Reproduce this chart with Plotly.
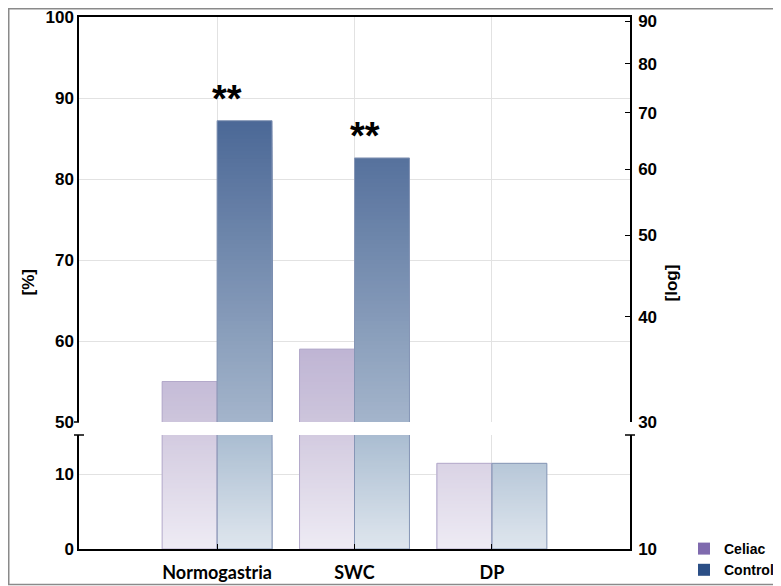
import numpy as np
import plotly.graph_objects as go

# ---------------- data ----------------
categories = ["Normogastria", "SWC", "DP"]
celiac = [55.0, 59.0, 11.5]
control = [87.2, 82.6, 11.5]
significance = ["**", "**", ""]
left_upper_ticks = [50, 60, 70, 80, 90, 100]
left_lower_ticks = [0, 10]
right_upper_ticks = [30, 40, 50, 60, 70, 80, 90]
right_lower_ticks = [10]

# ---------------- layout constants ----------------
# the page body adds an 8px offset, so the figure is 8px smaller and all
# positions below are screen positions minus 8
OFF = 8
W, H = 781 - OFF, 586 - OFF
ML, MT = 79 - OFF, 17 - OFF
PLOT_R, PLOT_B = 630 - OFF, 549 - OFF
MR, MB = W - PLOT_R, H - PLOT_B
PW = W - ML - MR
PH = H - MT - MB
LOWER_TOP = 435 - OFF
UPPER_BOT = 422 - OFF
lower_dom = [0, (PLOT_B - LOWER_TOP) / PH]
upper_dom = [(PLOT_B - UPPER_BOT) / PH, 1]
LOWER_RANGE = [0, 15.3]
UPPER_RANGE = [50, 100]

NUM_FONT = dict(family="Liberation Sans, Arial, sans-serif", size=17, color="black", weight="bold")
CAT_FONT = dict(family="Lato, Open Sans, sans-serif", size=18, color="black", weight="bold")


def hex2rgb(h):
    h = h.lstrip("#")
    return [int(h[i:i + 2], 16) for i in (0, 2, 4)]


def lerp(c0, c1, t):
    a, b = hex2rgb(c0), hex2rgb(c1)
    return "rgb(%d,%d,%d)" % tuple(round(a[i] + (b[i] - a[i]) * t) for i in range(3))


fig = go.Figure()


def add_gradient_bars(values, lo, hi, step, c_lo, c_hi, offset, xa, ya):
    # nested bars from the panel bottom, tallest first: each visible band gets
    # its own colour, giving a vertical gradient without seams
    edges = np.arange(lo, hi, step)[::-1]
    for e in edges:
        if max(v - e for v in values) <= 0:
            continue
        tops = [float(min(v, e + step)) for v in values]
        t = (e + step / 2 - lo) / (hi - lo)
        fig.add_trace(go.Bar(
            x=categories, y=[max(tp - lo, 0) for tp in tops], base=[float(lo)] * len(values),
            width=0.4, offset=offset,
            marker=dict(color=lerp(c_lo, c_hi, t), line=dict(width=0)),
            xaxis=xa, yaxis=ya, showlegend=False, hoverinfo="skip"))


def add_outline(values, offset, color, xa, ya):
    fig.add_trace(go.Bar(
        x=categories, y=values, width=0.4, offset=offset,
        marker=dict(color="rgba(0,0,0,0)", line=dict(width=1, color=color)),
        xaxis=xa, yaxis=ya, showlegend=False, hoverinfo="skip"))


# upper panel (50-100)
add_gradient_bars(celiac, 50, 100, 0.5, "#cdc5dc", "#7f6aae", -0.4, "x2", "y2")
add_gradient_bars(control, 50, 100, 0.5, "#a4b5cb", "#2c4d84", 0.0, "x2", "y2")
# lower panel
add_gradient_bars(celiac, 0, LOWER_RANGE[1], 0.25, "#eeebf4", "#d3cbe0", -0.4, "x", "y")
add_gradient_bars(control, 0, LOWER_RANGE[1], 0.25, "#dfe6ee", "#aabdd1", 0.0, "x", "y")

for xa, ya in (("x", "y"), ("x2", "y2")):
    add_outline(celiac, -0.4, "#b3a9ca", xa, ya)
    add_outline(control, 0.0, "#8696b6", xa, ya)

# empty traces so the right-hand (log) axes are drawn
fig.add_trace(go.Scatter(x=[None], y=[None], xaxis="x2", yaxis="y3", showlegend=False, hoverinfo="skip"))
fig.add_trace(go.Scatter(x=[None], y=[None], xaxis="x", yaxis="y4", showlegend=False, hoverinfo="skip"))

# legend entries
fig.add_trace(go.Bar(x=[None], y=[None], name="Celiac", marker=dict(color="#7f6aae", line=dict(width=0))))
fig.add_trace(go.Bar(x=[None], y=[None], name="Control", marker=dict(color="#2b4f86", line=dict(width=0))))

# significance marks
for cat, v, s in zip(categories, control, significance):
    if s:
        fig.add_annotation(x=cat, y=v, xref="x2", yref="y2", text=s, showarrow=False,
                           xanchor="left", yanchor="bottom", xshift=-7, yshift=-1,
                           font=dict(family="Liberation Sans, Arial", size=38, color="black", weight="bold"))

# axis titles
fig.add_annotation(x=(22 - OFF - ML) / PW, y=0.5, xref="paper", yref="paper", text="[%]", textangle=-90,
                   showarrow=False, xshift=-6, font=NUM_FONT)
fig.add_annotation(x=(676 - OFF - ML) / PW, y=0.5, xref="paper", yref="paper", text="[log]", textangle=-90,
                   showarrow=False, xshift=6, font=NUM_FONT)


# axis break caps and frame
def hline(x0px, x1px, yfrac):
    fig.add_shape(type="line", xref="paper", yref="paper",
                  x0=(x0px - ML) / PW, x1=(x1px - ML) / PW, y0=yfrac, y1=yfrac,
                  line=dict(color="black", width=1.5))


hline(ML - 5, ML, upper_dom[0])
hline(ML - 5, ML + 5, lower_dom[1])
hline(ML + PW - 5, ML + PW + 5, lower_dom[1])

fig.add_shape(type="rect", xref="paper", yref="paper",
              x0=(0.75 - ML) / PW, x1=(W + 10 - ML) / PW,
              y0=(PLOT_B - (584.5 - OFF)) / PH, y1=(PLOT_B - 0.75) / PH,
              line=dict(color="#8a8a8a", width=1.5), fillcolor="rgba(0,0,0,0)", layer="above")

axis_common = dict(showline=True, linecolor="black", linewidth=1.5, zeroline=False)
grid = dict(showgrid=True, gridcolor="#e2e2e2", gridwidth=1)

fig.update_layout(
    width=W, height=H,
    margin=dict(l=ML, r=MR, t=MT, b=MB, autoexpand=False),
    paper_bgcolor="white", plot_bgcolor="white",
    barmode="overlay",
    xaxis=dict(domain=[0, 1], anchor="y", range=[-1.005, 3.005], type="category",
               tickvals=categories, ticks="inside", ticklen=5, tickcolor="black",
               tickfont=CAT_FONT, ticklabelstandoff=7, ticklabeloverflow="allow",
               **axis_common, **grid),
    xaxis2=dict(domain=[0, 1], anchor="y2", matches="x", side="top", type="category",
                showticklabels=False, ticks="", **axis_common, **grid),
    yaxis=dict(domain=lower_dom, anchor="x", range=LOWER_RANGE, tickvals=left_lower_ticks,
               ticks="", tickfont=NUM_FONT, ticklabeloverflow="allow", **axis_common, **grid),
    yaxis2=dict(domain=upper_dom, anchor="x2", range=UPPER_RANGE, tickvals=left_upper_ticks,
                ticks="", tickfont=NUM_FONT, ticklabeloverflow="allow", **axis_common, **grid),
    yaxis3=dict(overlaying="y2", anchor="x2", side="right", type="log",
                range=[np.log10(30), 1.959], tickvals=right_upper_ticks,
                ticks="inside", ticklen=5, tickcolor="black", tickfont=NUM_FONT,
                ticklabelstandoff=3, ticklabeloverflow="allow", showgrid=False, **axis_common),
    yaxis4=dict(overlaying="y", anchor="x", side="right", type="log",
                range=[1, 1.3], tickvals=right_lower_ticks,
                ticks="inside", ticklen=5, tickcolor="black", tickfont=NUM_FONT,
                ticklabelstandoff=3, ticklabeloverflow="allow", showgrid=False, **axis_common),
    legend=dict(xref="container", yref="container", x=(684 - OFF) / W, y=0.0,
                xanchor="left", yanchor="bottom",
                font=dict(family="Liberation Sans, Arial", size=14, color="black", weight="bold"),
                bgcolor="rgba(0,0,0,0)", tracegroupgap=0, traceorder="normal"),
    showlegend=True,
)

fig.write_html("out.html")
